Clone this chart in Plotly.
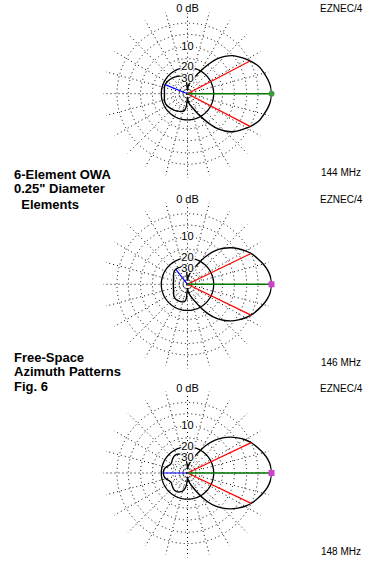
import numpy as np
import plotly.graph_objects as go

# ---------------- data ----------------
ring_db = [0, -3, -6, -10, -15, -20, -30, -40]      # dotted grid rings (dB)
solid_ring_db = -20                                   # ring drawn solid
label_db = [0, -10, -20, -30]
label_text = ["0 dB", "10", "20", "30"]
spoke_step_deg = 15

freq_labels = ["144 MHz", "146 MHz", "148 MHz"]
program_label = "EZNEC/4"
title_block_1 = ["6-Element OWA", "0.25\" Diameter", "\u00a0\u00a0Elements"]
title_block_2 = ["Free-Space", "Azimuth Patterns", "Fig. 6"]

# half patterns (0..180 deg), symmetric about boresight
ang_144 = [0, 5, 10, 15, 20, 25, 30, 35, 40, 45, 50, 55, 60, 65, 70, 75, 80, 85, 90,
           95, 100, 110, 120, 130, 140, 150, 158, 165, 172, 180]
db_144 = [0, -0.13, -0.5, -1.0, -1.5, -2.4, -3.5, -4.7, -6.0, -8.0, -10.7, -15, -20, -25,
          -30, -33, -36, -42, -55,
          -33, -27.5, -25.5, -24.6, -23.5, -22.6, -21.8, -21.4, -21.6, -22.0, -22.2]

ang_146 = [0, 5, 10, 15, 20, 25, 30, 35, 40, 45, 50, 55, 60, 65, 70, 75, 80, 85, 90,
           95, 100, 110, 120, 128, 135, 140, 150, 160, 170, 180]
db_146 = [0, -0.14, -0.55, -1.2, -2.0, -2.8, -3.9, -5.2, -6.7, -8.6, -11, -14.5, -19, -24.5,
          -29, -33, -37, -42, -52,
          -30, -26.8, -25.9, -25.6, -25.5, -25.9, -26.6, -28.3, -29.7, -30.5, -30.5]

ang_148 = [0, 5, 10, 15, 20, 25, 30, 35, 40, 45, 50, 55, 60, 65, 70, 75, 80, 85, 90,
           93, 97, 103, 112, 122, 130, 140, 148, 155, 162, 170, 180]
db_148 = [0, -0.14, -0.56, -1.25, -2.05, -2.9, -4.0, -5.4, -7.0, -9.0, -11.5, -15, -19.5, -25,
          -30, -34, -38, -44, -52,
          -38, -31, -26.5, -24.3, -23.3, -23.5, -24.6, -25.6, -25.2, -23.5, -21.9, -21.4]

beam_half_deg = [27.6, 25.9, 25.5]     # -3 dB points (red lines)
back_deg = [158, 128, 180]             # rear lobe max (blue line)
back_db = [-21.4, -25.5, -21.4]
max_marker_color = ["#3c9a3c", "#d040d0", "#d040d0"]
max_marker_symbol = ["circle", "square", "square"]

patterns = [(ang_144, db_144), (ang_146, db_146), (ang_148, db_148)]

# ---------------- layout geometry ----------------
W, H = 376, 567
centers_px = [(187.5, 93.7), (187.5, 284.3), (187.5, 473.0)]
R_MAX = 1.004
R_px = 84 * R_MAX


def arrl(db):
    """ARRL log scale: radius factor 0.89 per 2 dB."""
    return 0.89 ** (-np.asarray(db, dtype=float) / 2.0)


def full(ang, db):
    a = list(ang) + [360 - x for x in reversed(ang[:-1])]
    d = list(db) + list(reversed(db[:-1]))
    return a, d


fig = go.Figure()
dot = "1px,3px"

for i, (ang, db) in enumerate(patterns):
    pid = "polar" if i == 0 else f"polar{i + 1}"
    sub = pid
    cx, cy = centers_px[i]
    fig.update_layout({pid: dict(
        domain=dict(x=[(cx - R_px) / W, (cx + R_px) / W],
                    y=[1 - (cy + R_px) / H, 1 - (cy - R_px) / H]),
        bgcolor="white",
        radialaxis=dict(range=[0, R_MAX], tickvals=list(arrl(ring_db)),
                        showticklabels=False, ticks="", showline=False,
                        gridcolor="black", gridwidth=1, griddash=dot),
        angularaxis=dict(dtick=spoke_step_deg, rotation=0, direction="counterclockwise",
                         showticklabels=False, ticks="", showline=False,
                         gridcolor="black", gridwidth=1, griddash=dot),
    )})

    th = np.arange(0, 361, 2)
    fig.add_trace(go.Scatterpolar(r=arrl([solid_ring_db] * len(th)), theta=th, mode="lines",
                                  line=dict(color="black", width=1.3), subplot=sub,
                                  hoverinfo="skip", showlegend=False))
    a, d = full(ang, db)
    fig.add_trace(go.Scatterpolar(r=arrl(d), theta=a, mode="lines",
                                  line=dict(color="black", width=1.4, shape="spline", smoothing=0.8),
                                  subplot=sub, showlegend=False))
    bh = beam_half_deg[i]
    fig.add_trace(go.Scatterpolar(r=[0, float(arrl(-3)), None, 0, float(arrl(-3))],
                                  theta=[bh, bh, None, -bh, -bh], mode="lines",
                                  line=dict(color="#ff0000", width=1.2), subplot=sub,
                                  showlegend=False))
    fig.add_trace(go.Scatterpolar(r=[0, float(arrl(back_db[i]))], theta=[back_deg[i]] * 2,
                                  mode="lines", line=dict(color="#0000ff", width=1.2),
                                  subplot=sub, showlegend=False))
    fig.add_trace(go.Scatterpolar(r=[0, 1], theta=[0, 0], mode="lines",
                                  line=dict(color="#007a00", width=1.6), subplot=sub,
                                  showlegend=False))
    fig.add_trace(go.Scatterpolar(r=[1], theta=[0], mode="markers",
                                  marker=dict(color=max_marker_color[i], size=6,
                                              symbol=max_marker_symbol[i]),
                                  subplot=sub, showlegend=False))
    fig.add_trace(go.Scatterpolar(r=arrl(label_db), theta=[90] * len(label_db), mode="text",
                                  text=label_text, textposition="middle center",
                                  textfont=dict(family="Liberation Sans, Arial, sans-serif",
                                                size=11, color="black",
                                                shadow="1px 0px 0px white, -1px 0px 0px white, 0px 1px 0px white, 0px -1px 0px white, 2px 0px 0px white, -2px 0px 0px white"),
                                  subplot=sub, showlegend=False, hoverinfo="skip"))

small_font = dict(family="Liberation Sans, Arial, sans-serif", size=10, color="black")
bold_font = dict(family="Liberation Sans, Arial, sans-serif", size=13, color="black")

ann = []
top_rows = [8, 199, 388]
freq_rows = [172, 362, 551]
for i in range(3):
    ann.append(dict(text=program_label, x=341 / W, y=1 - top_rows[i] / H, xref="paper", yref="paper",
                    xanchor="center", yanchor="middle", showarrow=False, font=small_font))
    ann.append(dict(text=freq_labels[i], x=341 / W, y=1 - freq_rows[i] / H, xref="paper", yref="paper",
                    xanchor="center", yanchor="middle", showarrow=False, font=small_font))

for rows, block in (([174, 189, 204], title_block_1), ([357, 371, 386], title_block_2)):
    for yy, txt in zip(rows, block):
        ann.append(dict(text="<b>" + txt + "</b>", x=12 / W, y=1 - yy / H, xref="paper", yref="paper",
                        xanchor="left", yanchor="middle", showarrow=False, font=bold_font))

fig.update_layout(width=W, height=H, margin=dict(l=0, r=0, t=0, b=0),
                  paper_bgcolor="white", plot_bgcolor="white", showlegend=False,
                  annotations=ann)

fig.write_html("out.html", config={"displayModeBar": False, "staticPlot": True},
               post_script="document.body.style.margin='0';document.body.style.overflow='hidden';")
